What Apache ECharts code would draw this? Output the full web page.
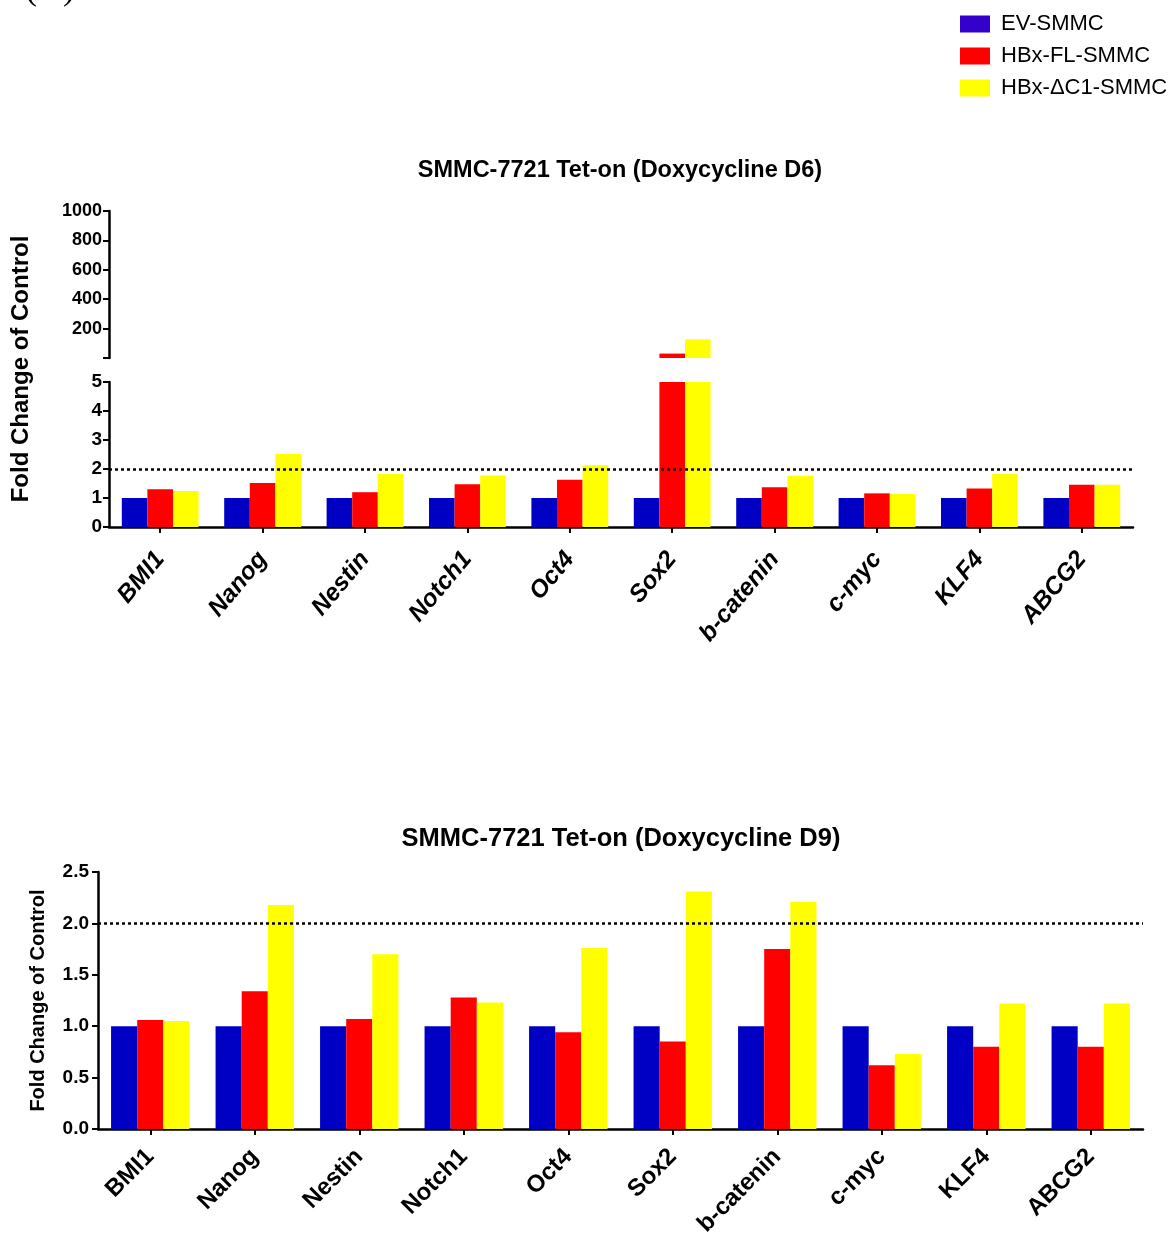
<!DOCTYPE html>
<html><head><meta charset="utf-8">
<script src="https://cdn.jsdelivr.net/npm/echarts@6/dist/echarts.min.js"></script>
<style>html,body{margin:0;padding:0;background:#fff}#c{width:1172px;height:1235px}</style>
</head><body><div id="c"></div>
<script>
const categories = ['BMI1','Nanog','Nestin','Notch1','Oct4','Sox2','b-catenin','c-myc','KLF4','ABCG2'];
const seriesNames = ['EV-SMMC','HBx-FL-SMMC','HBx-\u0394C1-SMMC'];
const d6_ev  = [1,1,1,1,1,1,1,1,1,1];
const d6_fl  = [1.30,1.52,1.20,1.47,1.63,30,1.37,1.16,1.33,1.46];
const d6_dc1 = [1.24,2.52,1.83,1.78,2.13,127,1.77,1.14,1.84,1.46];
const d9_ev  = [1,1,1,1,1,1,1,1,1,1];
const d9_fl  = [1.06,1.34,1.07,1.28,0.94,0.85,1.75,0.62,0.80,0.80];
const d9_dc1 = [1.05,2.18,1.70,1.23,1.76,2.31,2.21,0.73,1.22,1.22];
const breakValue = 5;
const thresholdValue = 2;
const title6 = 'SMMC-7721 Tet-on (Doxycycline D6)';
const title9 = 'SMMC-7721 Tet-on (Doxycycline D9)';
const yName = 'Fold Change of Control';

const colors = ['#0000C4','#FF0000','#FFFF00'];
const legendColors = ['#3300CC','#FF0000','#FFFF00'];
const sans = "'Liberation Sans',Arial,Helvetica,sans-serif";

const chart = echarts.init(document.getElementById('c'));
const axisLine = {show:true, lineStyle:{color:'#000', width:2.5}};
const axisTick = {show:true, inside:false, length:6, lineStyle:{color:'#000', width:2}};
const dotted = {silent:true, symbol:'none', label:{show:false},
  lineStyle:{color:'#000', type:[3,3], width:2.5}, data:[{yAxis:thresholdValue}]};

const d6 = [d6_ev, d6_fl, d6_dc1];
const d9 = [d9_ev, d9_fl, d9_dc1];
const series = [];
d6.forEach((arr,i)=>{
  series.push({name:seriesNames[i], type:'bar', xAxisIndex:1, yAxisIndex:1,
    data:arr.map(v=>Math.min(v,breakValue)), barWidth:'25%', barGap:'0%',
    itemStyle:{color:colors[i]}, animation:false,
    markLine: i===0 ? dotted : undefined});
  series.push({name:seriesNames[i], type:'bar', xAxisIndex:0, yAxisIndex:0,
    data:arr.map(v=> v>breakValue ? v : '-'), barWidth:'25%', barGap:'0%',
    itemStyle:{color:colors[i]}, animation:false});
});
d9.forEach((arr,i)=>{
  series.push({name:seriesNames[i], type:'bar', xAxisIndex:2, yAxisIndex:2,
    data:arr, barWidth:'25%', barGap:'0%', itemStyle:{color:colors[i]}, animation:false,
    markLine: i===0 ? dotted : undefined});
});

chart.setOption({
  animation:false,
  backgroundColor:'#fff',
  title:[
    {text:title6, left:615, top:154, textAlign:'center',
      textStyle:{fontFamily:sans, fontWeight:'bold', fontSize:23.5, color:'#000'}},
    {text:title9, left:616, top:821, textAlign:'center',
      textStyle:{fontFamily:sans, fontWeight:'bold', fontSize:25.5, color:'#000'}}
  ],
  legend:{orient:'vertical', left:955, top:8, itemWidth:30, itemHeight:17, itemGap:10,
    icon:'rect', selectedMode:false,
    textStyle:{fontFamily:sans, fontSize:22, color:'#000', padding:[0,0,0,6]},
    data:seriesNames.map((n,i)=>({name:n, itemStyle:{color:legendColors[i]}}))},
  grid:[
    {left:109, top:211, width:1024, height:147, outerBoundsMode:'none', containLabel:false},
    {left:109, top:382, width:1024, height:145, outerBoundsMode:'none', containLabel:false},
    {left:98, top:872, width:1045, height:257, outerBoundsMode:'none', containLabel:false}
  ],
  xAxis:[
    {gridIndex:0, type:'category', data:categories, show:false},
    {gridIndex:1, type:'category', data:categories, axisLine, axisTick:{...axisTick, alignWithLabel:true},
      axisLabel:{rotate:50, margin:28, interval:0, fontFamily:sans, fontWeight:'bold', fontStyle:'italic', fontSize:24.5, color:'#000'}},
    {gridIndex:2, type:'category', data:categories, axisLine, axisTick:{...axisTick, alignWithLabel:true},
      axisLabel:{rotate:45, margin:24, interval:0, fontFamily:sans, fontWeight:'bold', fontSize:24, color:'#000'}}
  ],
  yAxis:[
    {gridIndex:0, type:'value', min:0, max:1000, interval:200, splitLine:{show:false}, axisLine, axisTick,
      axisLabel:{margin:7, fontFamily:sans, fontWeight:'bold', fontSize:18, color:'#000',
        formatter:v=> v===0 ? '' : String(v)}},
    {gridIndex:1, type:'value', min:0, max:breakValue, interval:1, splitLine:{show:false}, axisLine, axisTick,
      axisLabel:{margin:7, fontFamily:sans, fontWeight:'bold', fontSize:19, color:'#000'}},
    {gridIndex:2, type:'value', min:0, max:2.5, interval:0.5, splitLine:{show:false}, axisLine, axisTick,
      name:yName, nameLocation:'middle', nameGap:50,
      nameTextStyle:{fontFamily:sans, fontWeight:'bold', fontSize:20, color:'#000'},
      axisLabel:{margin:9, fontFamily:sans, fontWeight:'bold', fontSize:19, color:'#000',
        formatter:v=>v.toFixed(1)}}
  ],
  graphic:[
    {type:'text', x:21, y:369, rotation:Math.PI/2,
      style:{text:yName, fontFamily:sans, fontWeight:'bold', fontSize:24, fill:'#000', align:'center', verticalAlign:'middle'}},
    {type:'text', left:25, top:-28,
      style:{text:'(A)', fontFamily:"'Liberation Serif','Times New Roman',serif", fontSize:36, fill:'#000'}}
  ],
  series
});
</script></body></html>
